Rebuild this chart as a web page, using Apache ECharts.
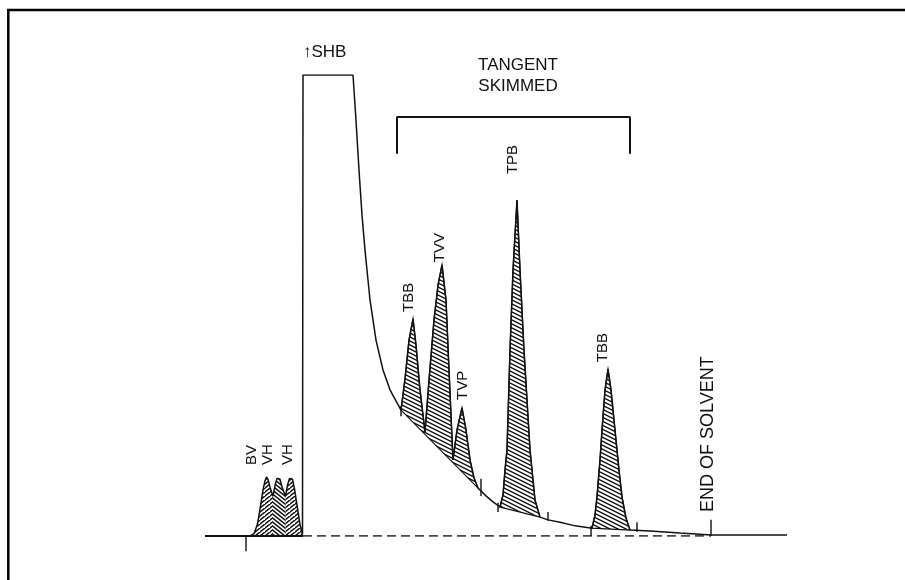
<!DOCTYPE html>
<html>
<head>
<meta charset="utf-8">
<script src="https://cdn.jsdelivr.net/npm/echarts@6/dist/echarts.min.js"></script>
<style>html,body{margin:0;padding:0;background:#fff}#chart{width:905px;height:580px}</style>
</head>
<body>
<div id="chart"></div>
<script>
// ---- Data (time in minutes, detector signal in % of full scale) ----
const traceTime = [1.2, 3.0, 3.16, 3.3, 3.42, 3.52, 3.6, 3.66, 3.72, 3.8, 3.92,
  4.0, 4.08, 4.14, 4.2, 4.28, 4.42,
  4.5, 4.58, 4.64, 4.7, 4.78, 4.9, 5.0, 5.1, 5.12, 5.12,
  7.12, 7.24, 7.36, 7.48, 7.6, 7.8, 8.04, 8.32, 8.6, 9.04,
  9.2, 9.36, 9.52, 9.64, 9.8, 10.0, 10.16, 10.36, 10.52, 10.68, 10.84, 10.96, 11.12, 11.28, 11.48, 11.64, 11.8, 11.96, 12.12,
  12.44, 12.72, 13.0, 13.12, 13.2, 13.28, 13.4, 13.52, 13.68, 13.8, 13.96, 14.08, 14.2, 14.4, 14.6,
  14.92, 15.4, 16.0, 16.68, 16.8, 16.88, 17.0, 17.08, 17.2, 17.32, 17.44, 17.6, 17.76, 17.88, 18.04, 18.2,
  19.0, 20.2, 21.44, 24.48];
const traceSignal = [0, 0, 0.5, 2.6, 6.5, 10.0, 12.0, 12.8, 12.3, 10.6, 8.6,
  11.0, 12.5, 12.8, 12.3, 10.6, 8.6,
  11.0, 12.5, 12.8, 12.3, 10.2, 6.0, 2.5, 0.3, 0, 100,
  100, 90.2, 79.4, 69.6, 62.0, 51.2, 42.5, 36.0, 31.7, 27.3,
  34.1, 42.5, 47.1, 41.4, 31.7, 22.6, 33.8, 46.9, 54.4, 58.8, 51.2, 36.0, 16.5, 23.0, 27.8, 23.0, 16.5, 12.6, 10.4,
  8.7, 7.4, 6.3, 8.9, 14.3, 18.7, 40.3, 57.7, 72.9, 57.7, 40.3, 29.5, 18.7, 7.8, 4.1,
  3.5, 3.0, 2.2, 1.7, 4.6, 8.5, 16.5, 23.0, 31.7, 36.2, 31.7, 23.0, 14.3, 8.5, 3.9, 1.3,
  1.1, 0.65, 0.2, 0.2];

// hatched (integrated) areas
const hatchStart = [3.0, 3.92, 4.42, 9.04, 13.0, 16.68];
const hatchEnd   = [3.92, 4.42, 5.1, 12.12, 14.6, 18.2];
const hatchBase  = ['zero', 'zero', 'zero', 'tangent', 'tangent', 'tangent'];

// integration event ticks
const tickTime = [2.84, 9.04, 12.24, 12.92, 14.92, 16.64, 18.48, 21.44];
const tickLow  = [-3.3, 26.0, 8.7, 5.2, 3.3, 0, 0.9, 0];
const tickHigh = [0, 28.2, 12.4, 7.2, 5.2, 2.2, 3.0, 3.5];

// drawn baseline
const baseStart = 5.12, baseEnd = 21.44;
// tangent-skim bracket
const bracketStart = 8.88, bracketEnd = 18.2, bracketTop = 90.9, bracketFoot = 82.9;

// annotations
const labelText   = ['BV', 'VH', 'VH', '↑SHB', 'TANGENT', 'SKIMMED', 'TBB', 'TVV', 'TVP', 'TPB', 'TBB', 'END OF SOLVENT'];
const labelTime   = [3.08, 3.72, 4.52, 5.12, 13.72, 13.72, 9.36, 10.6, 11.52, 13.5, 17.12, 21.32];
const labelSignal = [15.4, 15.4, 15.4, 104.9, 102.2, 97.6, 48.6, 59.4, 29.5, 78.5, 37.7, 5.2];

// ---- Styles ----
const INK = '#111';
const labelStyle = {
  'TANGENT': {size: 17, vertical: false, align: 'center'},
  'SKIMMED': {size: 17, vertical: false, align: 'center'},
  '↑SHB': {size: 17, vertical: false, align: 'left'},
  'END OF SOLVENT': {size: 18, vertical: true}
};

function makeHatch(w, h, down, lw) {
  const c = document.createElement('canvas');
  c.width = w; c.height = h;
  const ctx = c.getContext('2d');
  ctx.strokeStyle = INK; ctx.lineWidth = lw;
  for (let k = -1; k <= 1; k++) {
    ctx.beginPath();
    if (down) { ctx.moveTo(-w, k * h - h); ctx.lineTo(2 * w, k * h + 2 * h); }
    else { ctx.moveTo(-w, k * h + h); ctx.lineTo(2 * w, k * h - 2 * h); }
    ctx.stroke();
  }
  return c;
}
const hatchDown = makeHatch(8, 4, true, 1.4);
const hatchUp = makeHatch(5, 4, false, 1.4);
const hatchSteep = makeHatch(5, 4, true, 1.4);

const trace = traceTime.map((t, i) => [t, traceSignal[i]]);

const chart = echarts.init(document.getElementById('chart'), null, {renderer: 'canvas'});
chart.setOption({
  animation: false,
  backgroundColor: '#fff',
  grid: {left: 175, right: 105, top: 75, bottom: 44},
  xAxis: {type: 'value', min: 0, max: 25, show: false},
  yAxis: {type: 'value', min: 0, max: 100, show: false},
  graphic: [{type: 'rect', silent: true, shape: {x: 8.3, y: 10, width: 1000, height: 1000},
    style: {fill: null, stroke: '#000', lineWidth: 2.5}}],
  series: [
    { // hatched areas
      type: 'custom', silent: true, z: 1,
      data: hatchStart.map((s, i) => [s, hatchEnd[i], i]),
      encode: {x: [0, 1]},
      renderItem: (params, api) => {
        const i = params.dataIndex;
        const s = hatchStart[i], e = hatchEnd[i];
        const pts = [];
        if (hatchBase[i] === 'zero') pts.push(api.coord([s, 0]));
        trace.forEach(p => { if (p[0] >= s && p[0] <= e && p[1] < 100) pts.push(api.coord(p)); });
        if (hatchBase[i] === 'zero') pts.push(api.coord([e, 0]));
        let pat = hatchDown;
        if (hatchBase[i] === 'zero') pat = (i % 2 === 0) ? hatchUp : hatchSteep;
        return {type: 'polygon', shape: {points: pts},
          style: {fill: {image: pat, repeat: 'repeat'},
            stroke: hatchBase[i] === 'tangent' ? INK : null, lineWidth: 1.2}};
      }
    },
    { // detector trace
      type: 'line', data: trace, showSymbol: false, z: 3, silent: true,
      lineStyle: {color: INK, width: 1.5}
    },
    { // baseline under early peaks and before injection
      type: 'line', data: [[traceTime[0], 0], [baseStart, 0]], showSymbol: false, z: 3, silent: true,
      lineStyle: {color: INK, width: 1.9}
    },
    { // dashed drawn baseline
      type: 'line', data: [[baseStart, 0], [baseEnd, 0]], showSymbol: false, z: 2, silent: true,
      lineStyle: {color: INK, width: 1.5, type: [9, 5]}
    },
    { // tangent skimmed bracket
      type: 'line', showSymbol: false, z: 3, silent: true,
      data: [[bracketStart, bracketFoot], [bracketStart, bracketTop], [bracketEnd, bracketTop], [bracketEnd, bracketFoot]],
      lineStyle: {color: INK, width: 2}
    },
    { // event ticks
      type: 'custom', silent: true, z: 4,
      data: tickTime.map((t, i) => [t, tickLow[i], tickHigh[i]]),
      encode: {x: 0, y: [1, 2]},
      renderItem: (params, api) => {
        const i = params.dataIndex;
        const a = api.coord([tickTime[i], tickLow[i]]);
        const b = api.coord([tickTime[i], tickHigh[i]]);
        return {type: 'line', shape: {x1: a[0], y1: a[1], x2: b[0], y2: b[1]},
          style: {stroke: INK, lineWidth: 1.4}};
      }
    },
    { // labels
      type: 'custom', silent: true, z: 5,
      data: labelText.map((t, i) => [labelTime[i], labelSignal[i]]),
      encode: {x: 0, y: 1},
      renderItem: (params, api) => {
        const i = params.dataIndex;
        const txt = labelText[i];
        const st = labelStyle[txt] || {size: 15, vertical: true};
        const p = api.coord([labelTime[i], labelSignal[i]]);
        return {type: 'text', x: p[0], y: p[1], rotation: st.vertical ? Math.PI / 2 : 0,
          style: {text: txt, fill: INK, fontSize: st.size, fontFamily: '"Liberation Sans", Arial, sans-serif',
            align: st.vertical ? 'left' : st.align, verticalAlign: 'middle'}};
      }
    }
  ]
});
</script>
</body>
</html>
